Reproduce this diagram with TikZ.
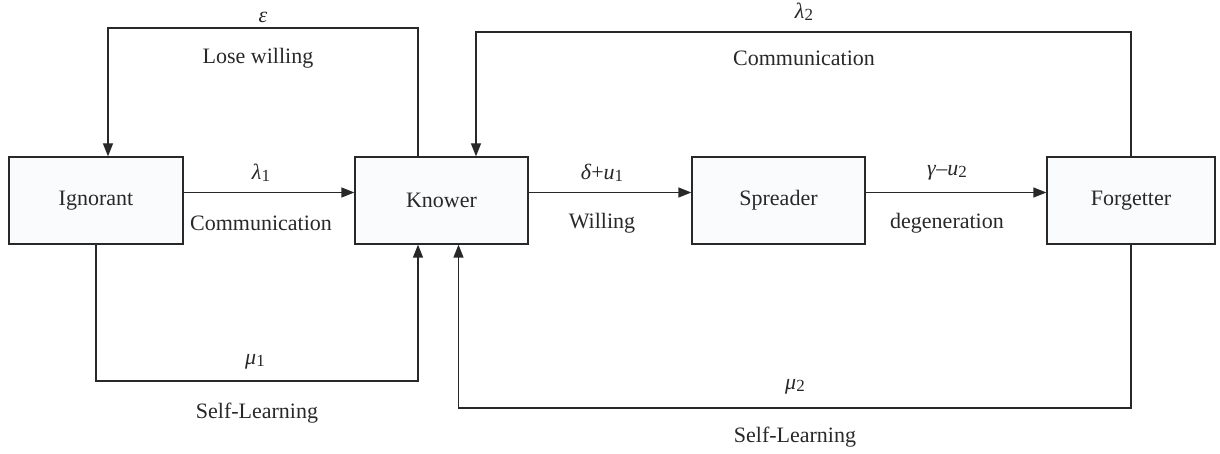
\documentclass[tikz,border=0pt]{standalone}
\usepackage{fontspec}
\setmainfont{Liberation Serif}
\usetikzlibrary{arrows.meta}
\definecolor{boxfill}{RGB}{250,251,253}
\definecolor{ink}{RGB}{40,40,40}
\newcommand{\sbs}[1]{\raisebox{-0.15ex}{\fontsize{8.5}{9}\selectfont #1}}
\begin{document}
\begin{tikzpicture}[x=0.5pt,y=-0.5pt,
  every node/.style={font=\fontsize{11}{13}\selectfont, text=ink},
  state/.style={draw=ink, line width=0.65pt, fill=boxfill, minimum height=43.5pt, inner sep=0pt},
  lbl/.style={inner sep=0pt},
  link/.style={draw=ink, line width=0.65pt},
  arr/.style={link, -{Triangle[length=6.5pt,width=5pt]}}]
\useasboundingbox (0,0) rectangle (1220,454);
% states
\node[state, minimum width=87pt]   (ign)  at (96,200.5)   {Ignorant};
\node[state, minimum width=86.5pt] (kno)  at (441.5,200.5) {Knower};
\node[state, minimum width=86.5pt] (spr)  at (778.5,200.5) {Spreader};
\node[state, minimum width=84pt]   (forg) at (1131,200.5)  {Forgetter};
% helper coordinates for loop levels
\coordinate (ytopA) at (0,28);
\coordinate (ytopB) at (0,32);
\coordinate (ybotA) at (0,381);
\coordinate (ybotB) at (0,408);
% main chain
\draw[arr] ([yshift=4pt]ign.east) -- ([yshift=4pt]kno.west);
\draw[arr] ([yshift=4pt]kno.east) -- ([yshift=4pt]spr.west);
\draw[arr] ([yshift=4pt]spr.east) -- ([yshift=4pt]forg.west);
% lose willing loop
\draw[arr] ([xshift=-11.75pt]kno.north) |- ([xshift=6pt]ign.north |- ytopA) -- ([xshift=6pt]ign.north);
% communication loop from forgetter
\draw[arr] (forg.north) |- ([xshift=17.25pt]kno.north |- ytopB) -- ([xshift=17.25pt]kno.north);
% self-learning loops
\draw[arr] (ign.south) |- ([xshift=-11.75pt]kno.south |- ybotA) -- ([xshift=-11.75pt]kno.south);
\draw[arr] (forg.south) |- ([xshift=8.5pt]kno.south |- ybotB) -- ([xshift=8.5pt]kno.south);
% labels
\node[lbl] (leps) at (263,17) {\textit{ε}};
\node[lbl] (llose) at (258,58) {Lose willing};
\node[lbl] (llam2) at (804,12) {\textit{λ}\sbs{2}};
\node[lbl] (lcom2) at (804,58) {Communication};
\node[lbl] (llam1) at (261,173) {\textit{λ}\sbs{1}};
\node[lbl] (lcom1) at (261,223) {Communication};
\node[lbl] (ldel) at (602,173) {\textit{δ}+\textit{u}\sbs{1}};
\node[lbl] (lwil) at (602,223) {Willing};
\node[lbl] (lgam) at (947,173) {\textit{γ}–\textit{u}\sbs{2}};
\node[lbl] (ldeg) at (947,223) {degeneration};
\node[lbl] (lmu1) at (255,362) {\textit{μ}\sbs{1}};
\node[lbl] (lsl1) at (257,413) {Self-Learning};
\node[lbl] (lmu2) at (795,387) {\textit{μ}\sbs{2}};
\node[lbl] (lsl2) at (795,437) {Self-Learning};
\end{tikzpicture}
\end{document}
